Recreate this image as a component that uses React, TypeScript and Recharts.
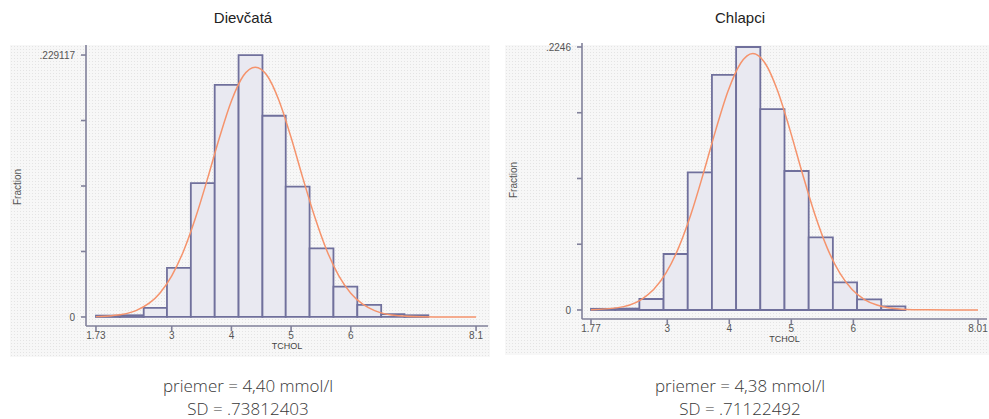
import React from "react";
import {
  ComposedChart,
  Line,
  XAxis,
  YAxis,
  ReferenceArea,
} from "recharts";

// Dievčatá (girls)
const girlsBinEdges = [1.73, 2.13, 2.53, 2.92, 3.32, 3.72, 4.12, 4.52, 4.91, 5.31, 5.71, 6.11, 6.51, 6.9, 7.3];
const girlsFraction = [0.0012, 0.0015, 0.008, 0.043, 0.117, 0.203, 0.229117, 0.176, 0.114, 0.06, 0.0265, 0.0105, 0.0025, 0.0015];
const girlsCurveX = [1.73, 2.0, 2.4, 2.8, 3.0, 3.2, 3.4, 3.6, 3.8, 4.0, 4.2, 4.4, 4.6, 4.8, 5.0, 5.2, 5.4, 5.6, 5.8, 6.0, 6.2, 6.4, 6.8, 7.2, 7.6, 8.1];
const girlsCurveY = [0.0003, 0.0011, 0.0056, 0.0208, 0.036, 0.058, 0.087, 0.121, 0.157, 0.189, 0.211, 0.2185, 0.211, 0.189, 0.157, 0.121, 0.087, 0.058, 0.036, 0.0208, 0.0112, 0.0056, 0.0011, 0.0002, 0, 0];
const girlsXTicks = [1.73, 3, 4, 5, 6, 8.1];
const girlsXLabels = ["1.73", "3", "4", "5", "6", "8.1"];
const girlsYTicks = [0, 0.05728, 0.11456, 0.17184, 0.229117];
const girlsYLabels = ["0", "", "", "", ".229117"];

// Chlapci (boys)
const boysBinEdges = [1.77, 2.16, 2.55, 2.94, 3.33, 3.72, 4.11, 4.5, 4.89, 5.28, 5.67, 6.06, 6.45, 6.84];
const boysFraction = [0.001, 0.0012, 0.0094, 0.0478, 0.1176, 0.2007, 0.2246, 0.1716, 0.1187, 0.062, 0.0236, 0.0091, 0.003];
const boysCurveX = [1.77, 2.18, 2.58, 2.78, 2.98, 3.18, 3.38, 3.58, 3.78, 3.98, 4.18, 4.38, 4.58, 4.78, 4.98, 5.18, 5.38, 5.58, 5.78, 5.98, 6.18, 6.38, 6.78, 7.18, 7.6, 8.01];
const boysCurveY = [0.0003, 0.0018, 0.0089, 0.0174, 0.0316, 0.0528, 0.0815, 0.1163, 0.1534, 0.187, 0.2105, 0.219, 0.2105, 0.187, 0.1534, 0.1163, 0.0815, 0.0528, 0.0316, 0.0174, 0.0089, 0.0042, 0.0007, 0.0001, 0, 0];
const boysXTicks = [1.77, 3, 4, 5, 6, 8.01];
const boysXLabels = ["1.77", "3", "4", "5", "6", "8.01"];
const boysYTicks = [0, 0.05615, 0.1123, 0.16845, 0.2246];
const boysYLabels = ["0", "", "", "", ".2246"];

const AXIS = "#80809a";
const BAR_STROKE = "#70709c";
const BAR_FILL = "#e9e9f1";
const CURVE = "#f5936c";
const tickStyle = { fontSize: 10, fill: "#555", fontFamily: "'Liberation Sans', Arial, sans-serif" };

interface PanelProps {
  edges: number[];
  fraction: number[];
  curveX: number[];
  curveY: number[];
  xTicks: number[];
  xLabels: string[];
  yTicks: number[];
  yLabels: string[];
  xDomain: [number, number];
  yDomain: [number, number];
  width: number;
  margin: { top: number; right: number; bottom: number; left: number };
}

function HistPanel(p: PanelProps) {
  const data = p.curveX.map((x, i) => ({ x, y: p.curveY[i] }));
  return (
    <ComposedChart width={p.width} height={360} data={data} margin={p.margin}>
      <XAxis
        dataKey="x"
        type="number"
        domain={p.xDomain}
        ticks={p.xTicks}
        tickFormatter={(_v: number, i: number) => p.xLabels[i]}
        allowDataOverflow
        stroke={AXIS}
        strokeWidth={1.6}
        tickSize={5}
        tickMargin={1}
        height={20}
        tick={tickStyle}
        label={{ value: "TCHOL", position: "insideBottom", offset: -3, fontSize: 9, fill: "#444", fontFamily: "'Liberation Sans', Arial, sans-serif" }}
      />
      <YAxis
        type="number"
        domain={p.yDomain}
        ticks={p.yTicks}
        tickFormatter={(_v: number, i: number) => p.yLabels[i]}
        allowDataOverflow
        stroke={AXIS}
        strokeWidth={1.6}
        tickSize={5}
        tickMargin={6}
        width={60}
        tick={tickStyle}
      />
      {p.fraction.map((f, i) => (
        <ReferenceArea
          key={i}
          x1={p.edges[i]}
          x2={p.edges[i + 1]}
          y1={0}
          y2={f}
          fill={BAR_FILL}
          fillOpacity={1}
          stroke={BAR_STROKE}
          strokeWidth={1.8}
          ifOverflow="visible"
        />
      ))}
      <Line
        type="monotone"
        dataKey="y"
        stroke={CURVE}
        strokeWidth={1.5}
        dot={false}
        isAnimationActive={false}
      />
    </ComposedChart>
  );
}

const bg: React.CSSProperties = {
  position: "absolute",
  backgroundColor: "#f7f7f7",
  backgroundImage: "radial-gradient(#e4e4e4 0.6px, transparent 0.8px)",
  backgroundSize: "3px 3px",
};

const fractionStyle: React.CSSProperties = {
  position: "absolute",
  fontSize: 10,
  color: "#555",
  fontFamily: "'Liberation Sans', Arial, sans-serif",
  transform: "translate(-50%, -50%) rotate(-90deg)",
  whiteSpace: "nowrap",
};

const titleStyle: React.CSSProperties = {
  position: "absolute",
  top: 9,
  width: 300,
  textAlign: "center",
  fontSize: 15,
  color: "#222",
  fontFamily: "'Liberation Sans', Arial, sans-serif",
};

const noteStyle: React.CSSProperties = {
  position: "absolute",
  top: 374,
  width: 300,
  textAlign: "center",
  fontSize: 17,
  lineHeight: "23px",
  color: "#383838",
  fontFamily: "'Open Sans', sans-serif",
  fontWeight: 300,
};

export default function App() {
  return (
    <div style={{ position: "absolute", left: 0, top: 0, width: 989, height: 419, background: "#fff", overflow: "hidden" }}>
      <div style={{ ...bg, left: 10, top: 45, width: 480, height: 312 }} />
      <div style={{ ...bg, left: 505, top: 45, width: 484, height: 310 }} />

      <div style={{ position: "absolute", left: 0, top: 0 }}>
        <HistPanel
          edges={girlsBinEdges}
          fraction={girlsFraction}
          curveX={girlsCurveX}
          curveY={girlsCurveY}
          xTicks={girlsXTicks}
          xLabels={girlsXLabels}
          yTicks={girlsYTicks}
          yLabels={girlsYLabels}
          xDomain={[1.563, 8.3]}
          yDomain={[-0.0079, 0.2379]}
          width={495}
          margin={{ top: 45, right: 7, bottom: 14, left: 26 }}
        />
      </div>
      <div style={{ position: "absolute", left: 495, top: 0 }}>
        <HistPanel
          edges={boysBinEdges}
          fraction={boysFraction}
          curveX={boysCurveX}
          curveY={boysCurveY}
          xTicks={boysXTicks}
          xLabels={boysXLabels}
          yTicks={boysYTicks}
          yLabels={boysYLabels}
          xDomain={[1.625, 8.155]}
          yDomain={[-0.0077, 0.228]}
          width={494}
          margin={{ top: 43, right: 2, bottom: 21, left: 27 }}
        />
      </div>

      <div style={{ ...fractionStyle, left: 17, top: 187 }}>Fraction</div>
      <div style={{ ...fractionStyle, left: 513, top: 180 }}>Fraction</div>

      <div style={{ ...titleStyle, left: 93 }}>Dievčatá</div>
      <div style={{ ...titleStyle, left: 590 }}>Chlapci</div>

      <div style={{ ...noteStyle, left: 98 }}>
        priemer = 4,40 mmol/l
        <br />
        SD = .73812403
      </div>
      <div style={{ ...noteStyle, left: 590 }}>
        priemer = 4,38 mmol/l
        <br />
        SD = .71122492
      </div>
    </div>
  );
}
